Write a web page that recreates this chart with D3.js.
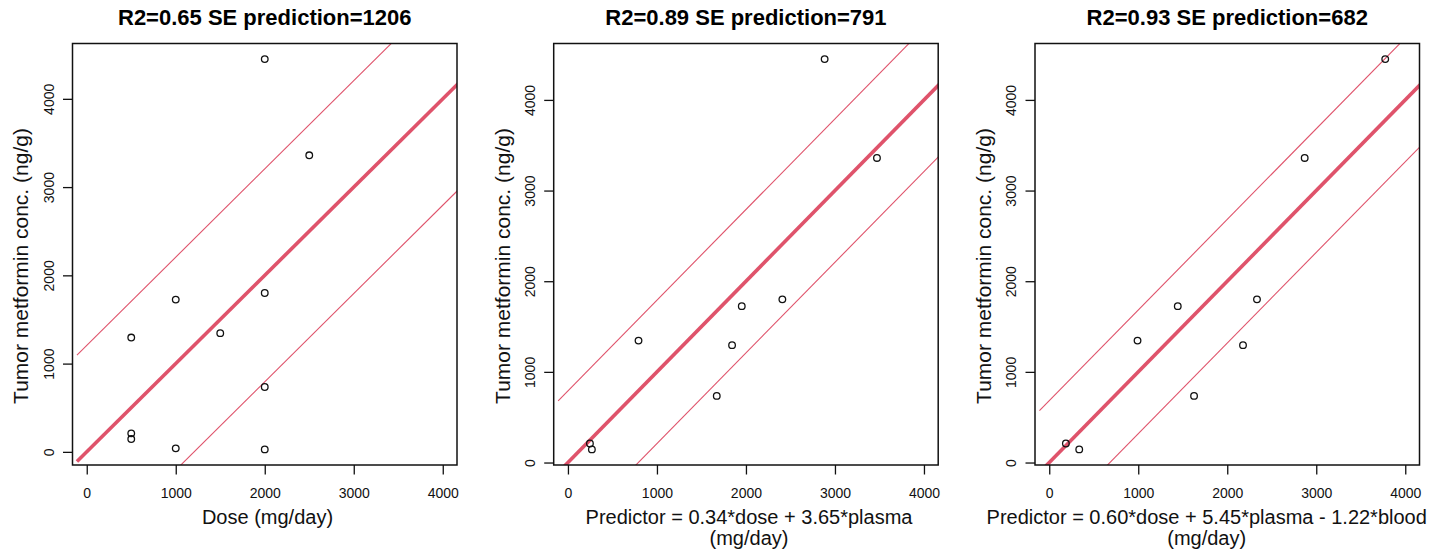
<!DOCTYPE html>
<html>
<head>
<meta charset="utf-8">
<script src="https://cdn.jsdelivr.net/npm/d3@7"></script>
<style>
  body { margin: 0; background: #fff; }
  svg { display: block; font-family: "Liberation Sans", Arial, sans-serif; }
  .tick text { font-size: 14px; }
</style>
</head>
<body>
<div id="chart"></div>
<script>
// measured tumor concentration (ng/g), one value per patient
var tumor = [4450, 3360, 1725, 1800, 1295, 1345, 735, 210, 145, 40, 28];
// x values per panel (null = no plasma / blood measurement)
var dose  = [2000, 2500, 1000, 2000, 500, 1500, 2000, 500, 500, 1000, 2000];
var pred2 = [2884, 3472, 1953, 2409, 1844, 793, 1672, 247, 269, null, null];
var pred3 = [3775, 2870, 1444, 2334, 2177, 992, 1627, 187, 337, null, null];

var titles = ["R2=0.65 SE prediction=1206", "R2=0.89 SE prediction=791", "R2=0.93 SE prediction=682"];
var seValues = [1206, 791, 682];
var xLabels = [
  ["Dose (mg/day)"],
  ["Predictor = 0.34*dose + 3.65*plasma", "(mg/day)"],
  ["Predictor = 0.60*dose + 5.45*plasma - 1.22*blood", "(mg/day)"]
];
var yLabel = "Tumor metformin conc. (ng/g)";
var tickVals = [0, 1000, 2000, 3000, 4000];
var xLimits = [0, 4000];

var predictors = [dose, pred2, pred3];

// layout (page pixels)
var W = 1450, H = 555;
var panelLeft = [72.5, 553.7, 1035];
var xLabelCenter = [267.5, 749, 1206.7];
var plotW = 384.5, plotTop = 43.5, plotBottom = 465;
var red = "#DF536B";

var svg = d3.select("#chart").append("svg")
  .attr("width", W)
  .attr("height", H);

function expand(ext) {
  var pad = (ext[1] - ext[0]) * 0.04;
  return [ext[0] - pad, ext[1] + pad];
}

predictors.forEach(function(px, p) {
  var pts = [];
  px.forEach(function(v, i) { if (v != null) pts.push({x: v, y: tumor[i]}); });

  var x = d3.scaleLinear().domain(expand(xLimits)).range([0, plotW]);
  var y = d3.scaleLinear()
    .domain(expand(d3.extent(pts, function(d) { return d.y; })))
    .range([plotBottom - plotTop, 0]);
  var h = plotBottom - plotTop;

  var g = svg.append("g")
    .attr("transform", "translate(" + panelLeft[p] + "," + plotTop + ")");

  svg.append("clipPath").attr("id", "clip" + p)
    .append("rect").attr("width", plotW).attr("height", h);

  // fitted line y = x and +/- SE lines
  var lineGen = d3.line()
    .x(function(d) { return x(d[0]); })
    .y(function(d) { return y(d[1]); });
  var lines = [
    {off: 0, w: 3.6},
    {off: seValues[p], w: 1.1},
    {off: -seValues[p], w: 1.1}
  ];
  g.append("g").attr("clip-path", "url(#clip" + p + ")")
    .selectAll("path")
    .data(lines)
    .enter()
    .append("path")
    .attr("d", function(l) { return lineGen([[-110, -110 + l.off], [5000, 5000 + l.off]]); })
    .attr("fill", "none")
    .style("stroke", red)
    .attr("stroke-width", function(l) { return l.w; });

  // points
  g.selectAll("circle")
    .data(pts)
    .enter()
    .append("circle")
    .attr("cx", function(d) { return x(d.x); })
    .attr("cy", function(d) { return y(d.y); })
    .attr("r", 3.3)
    .attr("fill", "none")
    .attr("stroke", "#111")
    .attr("stroke-width", 1.3);

  // frame
  g.append("rect")
    .attr("width", plotW)
    .attr("height", h)
    .attr("fill", "none")
    .attr("stroke", "#111")
    .attr("stroke-width", 1.5);

  // axes
  var xAxis = g.append("g")
    .attr("transform", "translate(0," + h + ")")
    .call(d3.axisBottom(x).tickValues(tickVals).tickSize(9.5).tickFormat(d3.format("d")));
  xAxis.attr("font-size", 14).attr("font-family", null);
  xAxis.select(".domain").remove();
  xAxis.selectAll("line").attr("stroke", "#111").attr("stroke-width", 1.3);
  xAxis.selectAll("text")
    .attr("y", 32.5)
    .attr("dy", null)
    .attr("fill", "#111");

  var yAxis = g.append("g")
    .call(d3.axisLeft(y).tickValues(tickVals).tickSize(9.5).tickFormat(d3.format("d")));
  yAxis.attr("font-size", 14).attr("font-family", null);
  yAxis.select(".domain").remove();
  yAxis.selectAll("line").attr("stroke", "#111").attr("stroke-width", 1.3);
  yAxis.selectAll("text")
    .attr("x", 0)
    .attr("dy", null)
    .attr("text-anchor", "middle")
    .attr("transform", "translate(-19,0) rotate(-90)")
    .attr("fill", "#111");

  // title
  svg.append("text")
    .attr("x", panelLeft[p] + plotW / 2)
    .attr("y", 25)
    .attr("text-anchor", "middle")
    .style("font-size", "22px")
    .style("font-weight", "bold")
    .text(titles[p]);

  // x label (one or two lines)
  svg.selectAll(null)
    .data(xLabels[p])
    .enter()
    .append("text")
    .attr("x", xLabelCenter[p])
    .attr("y", function(d, i) { return 524 + i * 21; })
    .attr("text-anchor", "middle")
    .style("font-size", "20px")
    .attr("fill", "#111")
    .text(function(d) { return d; });

  // y label
  svg.append("text")
    .attr("transform", "translate(" + (panelLeft[p] - 44.2) + ",266) rotate(-90)")
    .attr("text-anchor", "middle")
    .style("font-size", "21px")
    .attr("fill", "#111")
    .text(yLabel);
});
</script>
</body>
</html>
